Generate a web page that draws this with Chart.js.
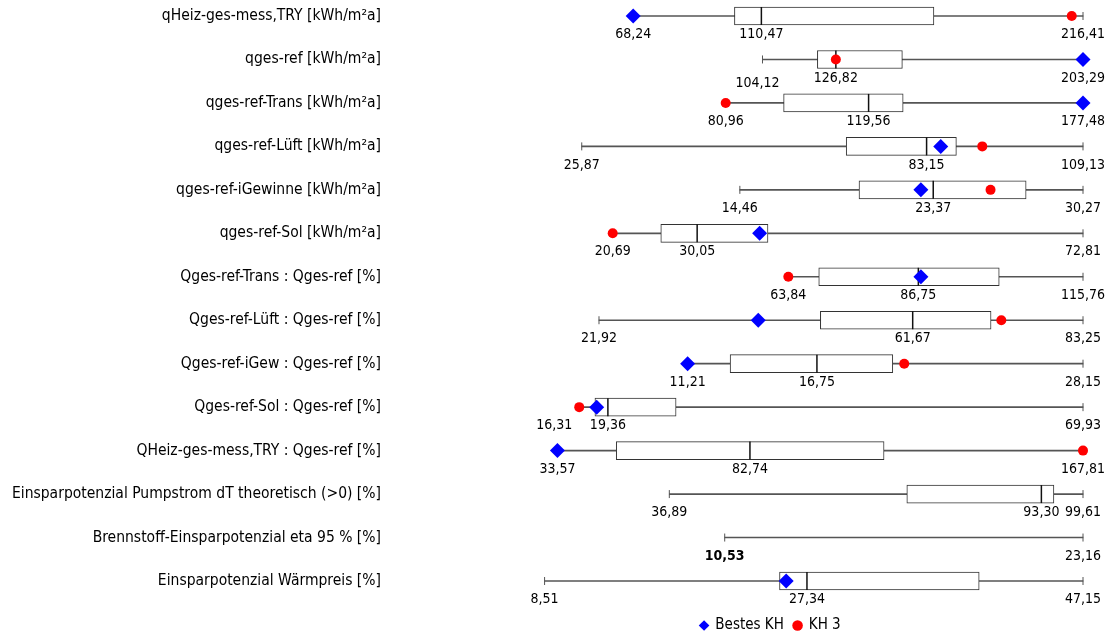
<!DOCTYPE html>
<html>
<head>
<meta charset="utf-8">
<script src="https://cdn.jsdelivr.net/npm/chart.js@4.4.1/dist/chart.umd.min.js"></script>
<style>
  html, body { margin: 0; padding: 0; background: #fff; }
  #wrap { width: 1112px; height: 636px; position: relative; }
</style>
</head>
<body>
<div id="wrap"><canvas id="chart"></canvas></div>
<script>
// Kennwerte je Zeile: Minimum, Quartile, Median, Maximum sowie zwei Einzelwerte
const categories = [
  'qHeiz-ges-mess,TRY [kWh/m²a]',
  'qges-ref [kWh/m²a]',
  'qges-ref-Trans [kWh/m²a]',
  'qges-ref-Lüft [kWh/m²a]',
  'qges-ref-iGewinne [kWh/m²a]',
  'qges-ref-Sol [kWh/m²a]',
  'Qges-ref-Trans : Qges-ref [%]',
  'Qges-ref-Lüft : Qges-ref [%]',
  'Qges-ref-iGew : Qges-ref [%]',
  'Qges-ref-Sol : Qges-ref [%]',
  'QHeiz-ges-mess,TRY : Qges-ref [%]',
  'Einsparpotenzial Pumpstrom dT theoretisch (>0) [%]',
  'Brennstoff-Einsparpotenzial eta 95 % [%]',
  'Einsparpotenzial Wärmpreis [%]'
];
const minValues    = [68.24, 104.12, 80.96, 25.87, 14.46, 20.69, 63.84, 21.92, 11.21, 16.31, 33.57, 36.89, 10.53, 8.51];
const q1Values     = [101.6, 121.1, 96.6, 69.8, 19.95, 26.02, 69.2, 49.97, 13.03, 17.98, 48.6, 72.9, null, 25.37];
const medianValues = [110.47, 126.82, 119.56, 83.15, 23.37, 30.05, 86.75, 61.67, 16.75, 19.36, 82.74, 93.30, null, 27.34];
const q3Values     = [167.3, 147.4, 128.9, 88.1, 27.65, 37.9, 101.0, 71.6, 20.0, 26.62, 117.0, 95.2, null, 39.7];
const maxValues    = [216.41, 203.29, 177.48, 109.13, 30.27, 72.81, 115.76, 83.25, 28.15, 69.93, 167.81, 99.61, 23.16, 47.15];
const bestesKH     = [68.24, 203.29, 177.48, 85.5, 22.80, 36.97, 87.2, 42.1, 11.21, 18.17, 33.57, null, null, 25.85];
const kh3          = [212.7, 126.82, 80.96, 92.4, 26.01, 20.69, 63.84, 72.9, 20.49, 16.31, 167.81, null, null, null];

const FONT = "'DejaVu Sans Condensed', 'DejaVu Sans', sans-serif";

// Jede Zeile wird auf ihr eigenes Maximum bezogen (Anteil 0..1)
const rel = (v, i) => v / maxValues[i];
const points = (arr) => arr
  .map((v, i) => (v == null ? null : { x: rel(v, i), y: categories[i] }))
  .filter(Boolean);
const fmt = (v) => v.toFixed(2).replace('.', ',');

const valueLabels = {
  id: 'valueLabels',
  afterDatasetsDraw(chart, args, opts) {
    const { ctx } = chart;
    const xs = chart.scales.x, ys = chart.scales.y;
    ctx.save();
    ctx.fillStyle = opts.color;
    ctx.textAlign = 'center';
    ctx.textBaseline = 'middle';
    categories.forEach((cat, i) => {
      const yc = ys.getPixelForValue(i) + opts.gap;
      const items = { min: minValues[i], median: medianValues[i], max: maxValues[i] };
      Object.keys(items).forEach((key) => {
        const v = items[key];
        if (v == null) return;
        const shift = (opts.shifts[i] && opts.shifts[i][key]) || [0, 0];
        const bold = opts.bold.some((b) => b.row === i && b.key === key);
        ctx.font = (bold ? 'bold ' : '') + opts.size + 'px ' + FONT;
        ctx.fillText(fmt(v), xs.getPixelForValue(rel(v, i)) + shift[0], yc + shift[1]);
      });
    });
    ctx.restore();
  }
};

const legendPlace = {
  id: 'legendPlace',
  afterLayout(chart, args, opts) {
    const lg = chart.legend;
    if (!lg) return;
    const ca = chart.chartArea;
    lg.left = ca.left + opts.dx;
    lg.right = ca.right + opts.dx;
    lg.top += opts.dy;
    lg.bottom += opts.dy;
  }
};

new Chart(document.getElementById('chart'), {
  type: 'bar',
  data: {
    labels: categories,
    datasets: [
      {
        type: 'scatter', label: 'Bestes KH', data: points(bestesKH),
        pointStyle: 'rectRot', pointRadius: 7.5, backgroundColor: '#0000ff',
        borderColor: '#0000ff', borderWidth: 0, order: 1, clip: false
      },
      {
        type: 'scatter', label: 'KH 3', data: points(kh3),
        pointStyle: 'circle', pointRadius: 5, backgroundColor: '#ff0000',
        borderColor: '#ff0000', borderWidth: 0, order: 2, clip: false
      },
      {
        type: 'scatter', label: 'Median', data: points(medianValues),
        pointStyle: 'line', rotation: 90, pointRadius: 9,
        borderColor: '#111', borderWidth: 1.5, order: 3, clip: false
      },
      {
        type: 'bar', label: 'Quartile', indexAxis: 'y', grouped: false,
        data: categories.map((c, i) => (q1Values[i] == null ? null : [rel(q1Values[i], i), rel(q3Values[i], i)])),
        backgroundColor: '#ffffff', borderColor: '#333333', borderWidth: 1,
        borderSkipped: false, barThickness: 18, order: 5, clip: false
      },
      {
        type: 'scatter', label: 'Enden',
        data: points(minValues).concat(points(maxValues)),
        pointStyle: 'line', rotation: 90, pointRadius: 4,
        borderColor: '#555', borderWidth: 1, order: 4, clip: false
      },
      {
        type: 'bar', label: 'Spannweite', indexAxis: 'y', grouped: false,
        data: categories.map((c, i) => [rel(minValues[i], i), rel(maxValues[i], i)]),
        backgroundColor: '#555555', borderWidth: 0, barThickness: 1, order: 6, clip: false
      }
    ]
  },
  options: {
    indexAxis: 'y',
    responsive: true,
    maintainAspectRatio: false,
    animation: false,
    events: [],
    layout: { padding: { top: 16, right: 29, bottom: 20, left: 0 } },
    scales: {
      x: { type: 'linear', min: 0, max: 1, display: false },
      y: {
        type: 'category',
        offset: false,
        grid: { display: false, drawTicks: false },
        border: { display: false },
        ticks: { color: '#000', padding: 45, font: { family: FONT, size: 15.5 } },
        afterFit: (s) => { s.width = 426; s.paddingTop = 0; s.paddingBottom = 0; }
      }
    },
    plugins: {
      tooltip: { enabled: false },
      legend: {
        position: 'bottom',
        labels: {
          usePointStyle: true, boxWidth: 7.5, boxHeight: 7.5, padding: 10,
          color: '#000', font: { family: FONT, size: 15 },
          filter: (item) => item.text === 'Bestes KH' || item.text === 'KH 3'
        }
      },
      legendPlace: { dx: 16, dy: 27 },
      valueLabels: {
        color: '#000', size: 14, gap: 18.5,
        shifts: { 1: { min: [-5, 5] }, 9: { min: [-25, 0] } },
        bold: [{ row: 12, key: 'min' }]
      }
    }
  },
  plugins: [valueLabels, legendPlace]
});
</script>
</body>
</html>
